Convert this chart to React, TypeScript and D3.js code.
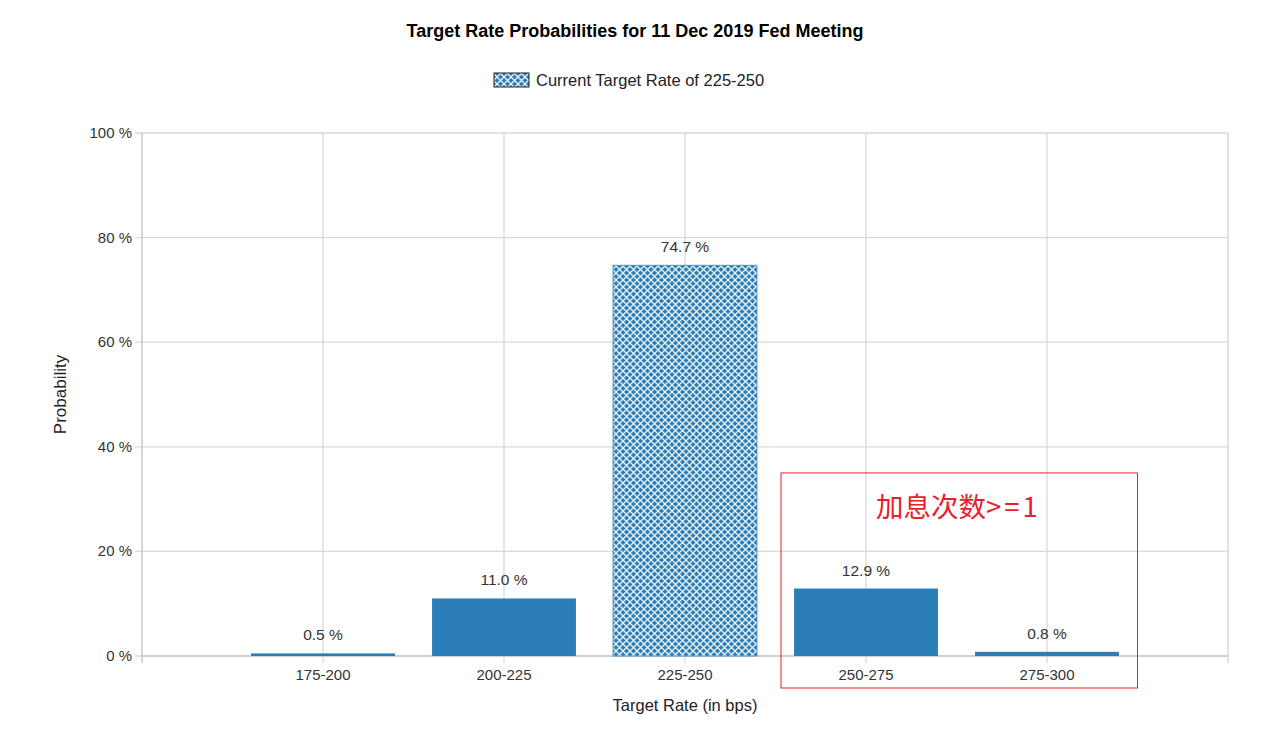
import { useRef, useEffect } from 'react';
import * as d3 from 'd3';

const categories = ['175-200', '200-225', '225-250', '250-275', '275-300'];
const probabilities = [0.5, 11.0, 74.7, 12.9, 0.8];
const currentRate = '225-250';
const yTicks = [0, 20, 40, 60, 80, 100];
const titleText = 'Target Rate Probabilities for 11 Dec 2019 Fed Meeting';
const legendText = 'Current Target Rate of 225-250';
const annotationHead = '加息次数';
const annotationTail = '>=1';
const annotatedCats = ['250-275', '275-300'];

const W = 1267;
const H = 729;
const FONT = '"Liberation Sans", Arial, sans-serif';
const BAR = '#2a7db6';

export default function App() {
  const svgRef = useRef<SVGSVGElement>(null);

  useEffect(() => {
    if (!svgRef.current) return;
    const svg = d3.select(svgRef.current);
    svg.selectAll('*').remove();

    const margin = { top: 133, right: 39, bottom: 73, left: 142 };
    const x = d3.scalePoint<string>().domain(categories).range([margin.left, W - margin.right]).padding(1);
    const y = d3.scaleLinear().domain([0, 100]).range([H - margin.bottom, margin.top]);
    const barW = x.step() * 0.795;

    // hatch pattern for the current target rate
    const defs = svg.append('defs');
    const pat = defs.append('pattern').attr('id', 'hatch').attr('patternUnits', 'userSpaceOnUse')
      .attr('width', 7).attr('height', 7);
    pat.append('rect').attr('width', 7).attr('height', 7).attr('fill', BAR);
    pat.append('path').attr('d', 'M0,0 L7,7 M7,0 L0,7')
      .attr('stroke', '#ffffff').attr('stroke-width', 1.3).attr('opacity', 0.9);

    svg.append('rect').attr('width', W).attr('height', H).attr('fill', '#fff');

    // title
    svg.append('text').attr('x', 635).attr('y', 37).attr('text-anchor', 'middle')
      .attr('font-family', FONT).attr('font-weight', 'bold').attr('font-size', 18)
      .attr('fill', '#000').text(titleText);

    // legend
    svg.append('rect').attr('x', 494).attr('y', 73).attr('width', 35).attr('height', 14)
      .attr('fill', 'url(#hatch)').attr('stroke', '#222').attr('stroke-width', 1);
    svg.append('text').attr('x', 536).attr('y', 86).attr('font-family', FONT).attr('font-size', 16.5)
      .attr('fill', '#222').text(legendText);

    const x0 = margin.left;
    const x1 = W - margin.right;
    const yb = y(0);
    const yt = y(100);
    const grid = '#d9d9d9';

    // horizontal grid
    svg.append('g').selectAll('line').data(yTicks).join('line')
      .attr('x1', x0 - 7).attr('x2', x1).attr('y1', (d) => y(d)).attr('y2', (d) => y(d))
      .attr('stroke', grid).attr('stroke-width', 1.3);
    // vertical grid
    svg.append('g').selectAll('line').data(categories).join('line')
      .attr('x1', (d) => x(d)!).attr('x2', (d) => x(d)!).attr('y1', yt).attr('y2', yb + 7)
      .attr('stroke', grid).attr('stroke-width', 1.3);
    // border lines
    svg.append('line').attr('x1', x0).attr('x2', x0).attr('y1', yt).attr('y2', yb + 7)
      .attr('stroke', '#c8c8c8').attr('stroke-width', 1.5);
    svg.append('line').attr('x1', x1).attr('x2', x1).attr('y1', yt).attr('y2', yb + 7)
      .attr('stroke', grid).attr('stroke-width', 1.5);
    svg.append('line').attr('x1', x0).attr('x2', x1).attr('y1', yb).attr('y2', yb)
      .attr('stroke', '#c8c8c8').attr('stroke-width', 1.5);

    // y tick labels
    svg.append('g').selectAll('text').data(yTicks).join('text')
      .attr('x', x0 - 10).attr('y', (d) => y(d) + 5).attr('text-anchor', 'end')
      .attr('font-family', FONT).attr('font-size', 15).attr('fill', '#333')
      .text((d) => `${d} %`);

    // x tick labels
    svg.append('g').selectAll('text').data(categories).join('text')
      .attr('x', (d) => x(d)!).attr('y', yb + 24).attr('text-anchor', 'middle')
      .attr('font-family', FONT).attr('font-size', 15).attr('fill', '#333')
      .text((d) => d);

    // bars
    const data = categories.map((c, i) => ({ c, v: probabilities[i] }));
    svg.append('g').selectAll('rect').data(data).join('rect')
      .attr('x', (d) => x(d.c)! - barW / 2).attr('width', barW)
      .attr('y', (d) => y(d.v)).attr('height', (d) => yb - y(d.v))
      .attr('fill', (d) => (d.c === currentRate ? 'url(#hatch)' : BAR))
      .attr('stroke', (d) => (d.c === currentRate ? '#4a93c8' : 'none'));

    svg.append('g').selectAll('text').data(data).join('text')
      .attr('x', (d) => x(d.c)!).attr('y', (d) => y(d.v) - 13).attr('text-anchor', 'middle')
      .attr('font-family', FONT).attr('font-size', 15.5).attr('fill', '#333')
      .text((d) => `${d.v.toFixed(1)} %`);

    // axis titles
    svg.append('text').attr('transform', `translate(66,${(yt + yb) / 2}) rotate(-90)`)
      .attr('text-anchor', 'middle').attr('font-family', FONT).attr('font-size', 17)
      .attr('fill', '#222').text('Probability');
    svg.append('text').attr('x', (x0 + x1) / 2).attr('y', 711).attr('text-anchor', 'middle')
      .attr('font-family', FONT).attr('font-size', 16.5).attr('fill', '#222')
      .text('Target Rate (in bps)');

    // red annotation box around the hike buckets
    const ax0 = x(annotatedCats[0])! - x.step() / 2 + 5.5;
    const ax1 = x(annotatedCats[annotatedCats.length - 1])! + x.step() / 2;
    svg.append('rect').attr('x', ax0).attr('y', y(35)).attr('width', ax1 - ax0)
      .attr('height', yb + 32 - y(35)).attr('fill', 'none')
      .attr('stroke', '#e8202a').attr('stroke-width', 1);
    const ann = svg.append('text').attr('x', 876).attr('y', 517)
      .attr('font-family', '"Noto Sans CJK SC", sans-serif').attr('font-size', 27.5)
      .attr('fill', '#e8202a');
    ann.append('tspan').text(annotationHead);
    ann.append('tspan').attr('letter-spacing', 3).text(annotationTail);
  }, []);

  return (
    <svg ref={svgRef} width={W} height={H} style={{ position: 'absolute', left: 0, top: 0 }} />
  );
}
